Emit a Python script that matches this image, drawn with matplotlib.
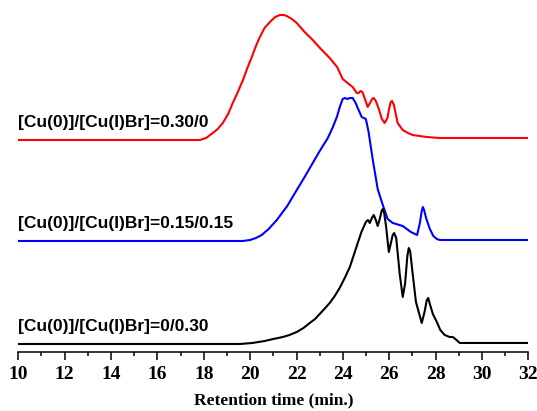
import numpy as np
import matplotlib.pyplot as plt
from matplotlib.ticker import MultipleLocator

# GPC traces (retention time in min, detector response in arbitrary units)
t_a = [10.0, 17.83, 18.1, 18.39, 18.6, 18.82, 19.05, 19.25, 19.47, 19.69, 19.88,
       20.07, 20.25, 20.42, 20.62, 20.85, 21.08, 21.28, 21.45, 21.58, 21.8, 22.01,
       22.35, 22.70, 23.05, 23.43, 23.75, 23.99, 24.2, 24.42, 24.6, 24.68, 24.76,
       24.84, 24.92, 25.07, 25.17, 25.26, 25.33, 25.42, 25.55, 25.68, 25.80, 25.92,
       26.0, 26.06, 26.12, 26.2, 26.36, 26.58, 26.8, 27.01, 27.3, 27.61, 28.17,
       28.6, 32.0]
i_a = [0, 0, 2, 7, 11, 17, 26, 37, 48, 60, 72, 83, 94, 103, 112, 118, 123, 125,
       125, 124, 121, 117, 108, 100, 91, 82, 73, 61, 57, 53, 47, 47, 49, 48, 43, 33,
       37, 41, 42, 39, 31, 21, 17, 22, 32, 38, 39, 35, 17, 10, 7, 5, 4, 3, 2, 2, 2]

t_b = [10.0, 19.69, 20.0, 20.25, 20.5, 20.8, 21.15, 21.6, 22.01, 22.35, 22.70,
       23.0, 23.35, 23.55, 23.74, 23.88, 23.99, 24.08, 24.2, 24.3, 24.42, 24.55,
       24.64, 24.81, 24.99, 25.1, 25.16, 25.29, 25.50, 25.72, 25.93, 26.15, 26.58,
       26.93, 27.2, 27.32, 27.4, 27.45, 27.5, 27.6, 27.75, 27.9, 28.05, 28.18, 32.0]
i_b = [0, 0, 1, 3, 6, 12, 21, 35, 51, 64, 78, 90, 103, 113, 124, 135, 142, 143,
       142, 143, 143, 138, 133, 124, 122, 110, 101, 81, 52, 36, 22, 18, 15, 9, 6,
       18, 30, 34, 31, 22, 12, 5, 2, 1, 1]

t_c = [10.0, 19.56, 20.1, 20.63, 21.0, 21.41, 21.7, 22.01, 22.3, 22.57, 22.8,
       23.0, 23.2, 23.43, 23.65, 23.86, 24.1, 24.30, 24.47, 24.64, 24.8, 24.99,
       25.08, 25.16, 25.25, 25.33, 25.42, 25.50, 25.6, 25.67, 25.72, 25.78, 25.86,
       25.98, 26.08, 26.15, 26.21, 26.3, 26.45, 26.58, 26.68, 26.78, 26.84, 26.9,
       27.0, 27.15, 27.40, 27.52, 27.62, 27.68, 27.75, 27.88, 28.05, 28.2, 28.39,
       28.6, 28.74, 28.9, 29.04, 32.0]
i_c = [0, 0, 1, 3, 5, 7, 9, 12, 16, 21, 25, 30, 35, 41, 48, 56, 67, 77, 89, 101,
       112, 122, 124, 121, 126, 129, 124, 118, 126, 133, 135, 131, 118, 92, 102,
       109, 111, 106, 70, 47, 60, 88, 96, 93, 72, 42, 21, 32, 44, 46, 40, 30, 22,
       14, 9, 7, 7, 4, 1, 1]

labels = ['[Cu(0)]/[Cu(I)Br]=0.30/0',
          '[Cu(0)]/[Cu(I)Br]=0.15/0.15',
          '[Cu(0)]/[Cu(I)Br]=0/0.30']
offsets = [204, 103, 0]
colors = ['#ff0000', '#0000ff', 'black']

fig = plt.figure(figsize=(5.37, 4.11), dpi=100)
ax = fig.add_axes([0.034, 0.1436, 0.950, 0.8564])

for t, y, off, c, lab in zip([t_a, t_b, t_c], [i_a, i_b, i_c], offsets, colors, labels):
    ax.plot(t, np.array(y) + off, color=c, lw=1.5, solid_joinstyle='round')
    ax.text(10.0, off + 13, lab, fontsize=12.5, fontweight='bold',
            family='Liberation Sans', va='baseline', ha='left')

ax.set_xlim(10, 32)
ax.set_ylim(-8, 344)
ax.xaxis.set_major_locator(MultipleLocator(2))
ax.xaxis.set_minor_locator(MultipleLocator(1))
ax.tick_params(axis='x', which='major', length=6, width=1.1, pad=4)
ax.tick_params(axis='x', which='minor', length=3, width=1.1)
ax.set_yticks([])
for s in ['left', 'right', 'top']:
    ax.spines[s].set_visible(False)
ax.spines['bottom'].set_linewidth(1.1)
for lbl in ax.get_xticklabels():
    lbl.set_fontfamily('Liberation Serif')
    lbl.set_fontweight('bold')
    lbl.set_fontsize(14)
ax.set_xlabel('Retention time (min.)', fontsize=12.5, fontweight='bold',
              family='Liberation Serif', labelpad=7)

fig.savefig('out.png', dpi=100)
